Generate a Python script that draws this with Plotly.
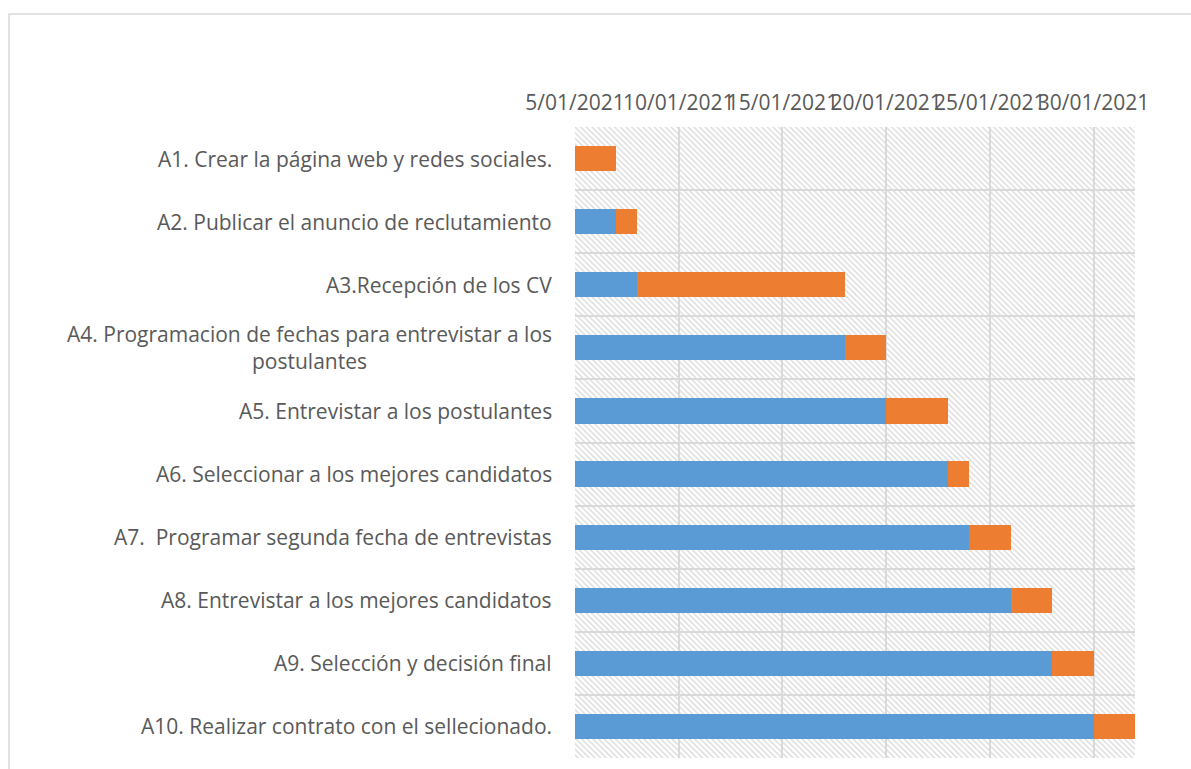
import pandas as pd
import plotly.graph_objects as go

# Activities of the recruitment plan
tasks = [
    "A1. Crear la página web y redes sociales.",
    "A2. Publicar el anuncio de reclutamiento",
    "A3.Recepción de los CV",
    "A4. Programacion de fechas para entrevistar a los<br>postulantes",
    "A5. Entrevistar a los postulantes",
    "A6. Seleccionar a los mejores candidatos",
    "A7.  Programar segunda fecha de entrevistas",
    "A8. Entrevistar a los mejores candidatos",
    "A9. Selección y decisión final",
    "A10. Realizar contrato con el sellecionado.",
]
start_dates = [
    "2021-01-05", "2021-01-07", "2021-01-08", "2021-01-18", "2021-01-20",
    "2021-01-23", "2021-01-24", "2021-01-26", "2021-01-28", "2021-01-30",
]
durations_days = [2, 1, 10, 2, 3, 1, 2, 2, 2, 2]

axis_start = "2021-01-05"
axis_end = "2021-02-01"

DAY_MS = 86400000
t0 = pd.Timestamp(axis_start)
t1 = pd.Timestamp(axis_end)
starts = [pd.Timestamp(s) for s in start_dates]
cats = [str(i) for i in range(len(tasks))]

W, H = 1191, 769
L, R, T, B = 575, 1135, 127, 758

fig = go.Figure()

# hatched plot background, one full-height band per row
fig.add_trace(go.Bar(
    y=cats, base=[t0] * len(cats),
    x=[(t1 - t0).total_seconds() * 1000] * len(cats),
    orientation="h", width=1.0,
    marker=dict(color="#dadada", line=dict(width=0),
                pattern=dict(shape="\\", fgcolor="#dadada",
                             bgcolor="rgba(0,0,0,0)", size=4, solidity=0.35,
                             fillmode="replace")),
    hoverinfo="skip", showlegend=False,
))

# lead time from the axis start up to each activity's start
fig.add_trace(go.Bar(
    y=cats, base=[t0] * len(cats),
    x=[(s - t0).total_seconds() * 1000 for s in starts],
    orientation="h", width=0.4,
    marker=dict(color="#5B9BD5", line=dict(width=0)),
    name="Inicio", showlegend=False,
))

# activity duration
fig.add_trace(go.Bar(
    y=cats, base=starts,
    x=[d * DAY_MS for d in durations_days],
    orientation="h", width=0.4,
    marker=dict(color="#ED7D31", line=dict(width=0)),
    name="Duración", showlegend=False,
))

label_font = dict(family="'Open Sans', sans-serif", size=21, color="#595959")

for c, t in zip(cats, tasks):
    fig.add_annotation(
        x=0, xref="paper", y=c, yref="y", text=t, showarrow=False,
        xanchor="right", yanchor="middle", align="center", xshift=-21,
        font=label_font,
    )

# outer chart frame
fig.add_shape(
    type="rect", xref="paper", yref="paper",
    x0=(9 - L) / (R - L), x1=(W + 20 - L) / (R - L),
    y0=-(H + 20 - B) / (B - T), y1=(B - 14) / (B - T),
    line=dict(color="#d9d9d9", width=1.5), fillcolor="rgba(0,0,0,0)", layer="below",
)

fig.update_layout(
    width=W, height=H,
    margin=dict(l=L, r=W - R, t=T, b=H - B),
    paper_bgcolor="white", plot_bgcolor="white",
    barmode="overlay", bargap=0,
    showlegend=False,
    font=label_font,
)
fig.update_xaxes(
    type="date", side="top", range=[t0, t1],
    tick0=axis_start, dtick=5 * DAY_MS, tickformat="%-d/%m/%Y",
    tickangle=0, ticks="", ticklabelstandoff=12,
    showgrid=True, gridcolor="#d9d9d9", gridwidth=1.5,
    showline=False, zeroline=False,
    tickfont=dict(family="'Open Sans', sans-serif", size=21, color="#595959"),
)
fig.update_yaxes(
    type="category", categoryorder="array", categoryarray=cats,
    autorange="reversed", tickson="boundaries", ticks="",
    showticklabels=False, showgrid=True, gridcolor="#d9d9d9", gridwidth=1.5,
    showline=False, zeroline=False,
)

fig.write_html("out.html")
